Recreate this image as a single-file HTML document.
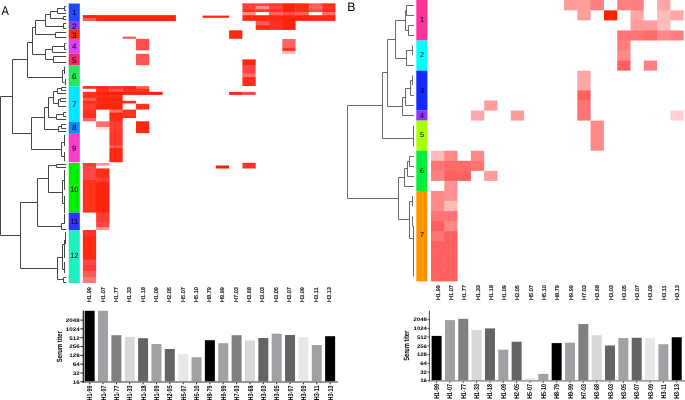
<!DOCTYPE html>
<html><head><meta charset="utf-8"><title>Figure</title>
<style>
html,body{margin:0;padding:0;background:#fff;}
body{width:685px;height:400px;overflow:hidden;}
svg{display:block;font-family:"Liberation Sans",sans-serif;text-rendering:geometricPrecision;}
</style></head><body>
<svg width="685" height="400" viewBox="0 0 685 400">
<rect x="0" y="0" width="685" height="400" fill="#fff"/>
<g>
<rect x="68.70" y="3.50" width="11.10" height="17.50" fill="#1f4bff"/>
<rect x="68.70" y="21.00" width="11.10" height="8.90" fill="#8a3cff"/>
<rect x="68.70" y="29.90" width="11.10" height="9.00" fill="#ff2a00"/>
<rect x="68.70" y="38.90" width="11.10" height="14.90" fill="#e040fb"/>
<rect x="68.70" y="53.80" width="11.10" height="11.70" fill="#f5286e"/>
<rect x="68.70" y="65.50" width="11.10" height="20.80" fill="#28e65a"/>
<rect x="68.70" y="86.30" width="11.10" height="35.30" fill="#00e6ff"/>
<rect x="68.70" y="121.60" width="11.10" height="11.40" fill="#0a8cff"/>
<rect x="68.70" y="133.00" width="11.10" height="29.30" fill="#ff3cc8"/>
<rect x="68.70" y="163.00" width="11.10" height="49.60" fill="#00f000"/>
<rect x="68.70" y="212.60" width="11.10" height="17.50" fill="#3232ff"/>
<rect x="68.70" y="230.10" width="11.10" height="52.90" fill="#1ef0be"/>
<rect x="416.30" y="0.00" width="11.10" height="40.50" fill="#ff3296"/>
<rect x="416.30" y="40.50" width="11.10" height="30.15" fill="#00ffff"/>
<rect x="416.30" y="70.65" width="11.10" height="39.90" fill="#1428ff"/>
<rect x="416.30" y="110.55" width="11.10" height="10.05" fill="#9632ff"/>
<rect x="416.30" y="120.60" width="11.10" height="30.15" fill="#aaff00"/>
<rect x="416.30" y="150.75" width="11.10" height="40.20" fill="#00f03c"/>
<rect x="416.30" y="190.95" width="11.10" height="90.45" fill="#ff9600"/>
<rect x="254.70" y="3.90" width="2.00" height="1.60" fill="rgb(255,60,52)"/>
<rect x="243.00" y="5.10" width="12.10" height="2.00" fill="rgb(255,60,52)"/>
<rect x="268.00" y="3.90" width="2.00" height="1.60" fill="rgb(255,70,70)"/>
<rect x="256.30" y="5.10" width="12.10" height="2.00" fill="rgb(255,70,70)"/>
<rect x="281.30" y="3.90" width="2.00" height="1.60" fill="rgb(255,55,47)"/>
<rect x="269.60" y="5.10" width="12.10" height="2.00" fill="rgb(255,55,47)"/>
<rect x="294.60" y="3.90" width="2.00" height="1.60" fill="rgb(255,34,10)"/>
<rect x="282.90" y="5.10" width="12.10" height="2.00" fill="rgb(255,34,10)"/>
<rect x="307.90" y="3.90" width="2.00" height="1.60" fill="rgb(255,46,22)"/>
<rect x="296.20" y="5.10" width="12.10" height="2.00" fill="rgb(255,46,22)"/>
<rect x="321.20" y="3.90" width="2.00" height="1.60" fill="rgb(255,90,90)"/>
<rect x="309.50" y="5.10" width="12.10" height="2.00" fill="rgb(255,90,90)"/>
<rect x="322.80" y="5.10" width="12.10" height="2.00" fill="rgb(255,51,27)"/>
<rect x="254.70" y="6.70" width="2.00" height="1.80" fill="rgb(255,65,57)"/>
<rect x="243.00" y="8.10" width="12.10" height="2.00" fill="rgb(255,65,57)"/>
<rect x="268.00" y="6.70" width="2.00" height="1.80" fill="rgb(255,140,140)"/>
<rect x="256.30" y="8.10" width="12.10" height="2.00" fill="rgb(255,140,140)"/>
<rect x="281.30" y="6.70" width="2.00" height="1.80" fill="rgb(255,70,70)"/>
<rect x="269.60" y="8.10" width="12.10" height="2.00" fill="rgb(255,70,70)"/>
<rect x="294.60" y="6.70" width="2.00" height="1.80" fill="rgb(255,34,10)"/>
<rect x="282.90" y="8.10" width="12.10" height="2.00" fill="rgb(255,34,10)"/>
<rect x="307.90" y="6.70" width="2.00" height="1.80" fill="rgb(255,46,22)"/>
<rect x="296.20" y="8.10" width="12.10" height="2.00" fill="rgb(255,46,22)"/>
<rect x="321.20" y="6.70" width="2.00" height="1.80" fill="rgb(255,100,100)"/>
<rect x="309.50" y="8.10" width="12.10" height="2.00" fill="rgb(255,100,100)"/>
<rect x="322.80" y="8.10" width="12.10" height="2.00" fill="rgb(255,50,42)"/>
<rect x="254.70" y="9.70" width="2.00" height="1.80" fill="rgb(255,50,42)"/>
<rect x="243.00" y="11.10" width="12.10" height="2.00" fill="rgb(255,50,42)"/>
<rect x="268.00" y="9.70" width="2.00" height="1.80" fill="rgb(255,60,52)"/>
<rect x="281.30" y="9.70" width="2.00" height="1.80" fill="rgb(255,50,42)"/>
<rect x="269.60" y="11.10" width="12.10" height="2.00" fill="rgb(255,50,42)"/>
<rect x="294.60" y="9.70" width="2.00" height="1.80" fill="rgb(255,34,10)"/>
<rect x="282.90" y="11.10" width="12.10" height="2.00" fill="rgb(255,34,10)"/>
<rect x="307.90" y="9.70" width="2.00" height="1.80" fill="rgb(255,46,22)"/>
<rect x="296.20" y="11.10" width="12.10" height="2.00" fill="rgb(255,46,22)"/>
<rect x="321.20" y="9.70" width="2.00" height="1.80" fill="rgb(255,80,80)"/>
<rect x="322.80" y="11.10" width="12.10" height="2.00" fill="rgb(255,46,22)"/>
<rect x="243.00" y="14.20" width="12.10" height="2.00" fill="rgb(255,140,140)"/>
<rect x="281.30" y="12.70" width="2.00" height="1.90" fill="rgb(255,100,100)"/>
<rect x="269.60" y="14.20" width="12.10" height="2.00" fill="rgb(255,100,100)"/>
<rect x="294.60" y="12.70" width="2.00" height="1.90" fill="rgb(255,80,80)"/>
<rect x="282.90" y="14.20" width="12.10" height="2.00" fill="rgb(255,80,80)"/>
<rect x="296.20" y="14.20" width="12.10" height="2.00" fill="rgb(255,100,100)"/>
<rect x="322.80" y="14.20" width="12.10" height="2.00" fill="rgb(255,110,110)"/>
<rect x="254.70" y="15.80" width="2.00" height="4.50" fill="rgb(255,41,17)"/>
<rect x="268.00" y="15.80" width="2.00" height="4.50" fill="rgb(255,41,17)"/>
<rect x="256.30" y="19.90" width="12.10" height="2.00" fill="rgb(255,41,17)"/>
<rect x="281.30" y="15.80" width="2.00" height="4.50" fill="rgb(255,41,17)"/>
<rect x="269.60" y="19.90" width="12.10" height="2.00" fill="rgb(255,41,17)"/>
<rect x="294.60" y="15.80" width="2.00" height="4.50" fill="rgb(255,36,12)"/>
<rect x="282.90" y="19.90" width="12.10" height="2.00" fill="rgb(255,36,12)"/>
<rect x="307.90" y="15.80" width="2.00" height="4.50" fill="rgb(255,36,12)"/>
<rect x="321.20" y="15.80" width="2.00" height="4.50" fill="rgb(255,41,17)"/>
<rect x="83.40" y="16.90" width="12.10" height="2.00" fill="rgb(255,34,10)"/>
<rect x="95.10" y="15.70" width="2.00" height="1.60" fill="rgb(255,34,10)"/>
<rect x="95.10" y="18.50" width="2.00" height="1.90" fill="rgb(255,90,90)"/>
<rect x="256.30" y="24.20" width="12.10" height="2.00" fill="rgb(255,90,90)"/>
<rect x="268.00" y="21.50" width="2.00" height="3.10" fill="rgb(255,90,90)"/>
<rect x="268.00" y="25.80" width="2.00" height="3.50" fill="rgb(255,46,22)"/>
<rect x="281.30" y="21.50" width="2.00" height="7.80" fill="rgb(255,50,42)"/>
<rect x="282.90" y="46.80" width="12.10" height="2.00" fill="rgb(255,100,100)"/>
<rect x="282.90" y="49.90" width="12.10" height="2.00" fill="rgb(255,50,42)"/>
<rect x="243.00" y="64.20" width="12.10" height="2.00" fill="rgb(255,36,12)"/>
<rect x="243.00" y="72.50" width="12.10" height="2.00" fill="rgb(255,70,70)"/>
<rect x="243.00" y="76.00" width="12.10" height="2.00" fill="rgb(255,110,110)"/>
<rect x="95.10" y="86.70" width="2.00" height="1.50" fill="rgb(255,46,22)"/>
<rect x="108.40" y="86.70" width="2.00" height="1.50" fill="rgb(255,36,12)"/>
<rect x="96.70" y="87.80" width="12.10" height="2.00" fill="rgb(255,36,12)"/>
<rect x="121.70" y="86.70" width="2.00" height="1.50" fill="rgb(255,46,22)"/>
<rect x="110.00" y="87.80" width="12.10" height="2.00" fill="rgb(255,46,22)"/>
<rect x="135.00" y="86.70" width="2.00" height="1.50" fill="rgb(255,36,12)"/>
<rect x="123.30" y="87.80" width="12.10" height="2.00" fill="rgb(255,36,12)"/>
<rect x="136.60" y="87.80" width="12.10" height="2.00" fill="rgb(255,90,90)"/>
<rect x="108.40" y="89.40" width="2.00" height="1.80" fill="rgb(255,51,27)"/>
<rect x="96.70" y="90.80" width="12.10" height="2.00" fill="rgb(255,51,27)"/>
<rect x="121.70" y="89.40" width="2.00" height="1.80" fill="rgb(255,80,80)"/>
<rect x="110.00" y="90.80" width="12.10" height="2.00" fill="rgb(255,80,80)"/>
<rect x="135.00" y="89.40" width="2.00" height="1.80" fill="rgb(255,50,42)"/>
<rect x="123.30" y="90.80" width="12.10" height="2.00" fill="rgb(255,50,42)"/>
<rect x="136.60" y="90.80" width="12.10" height="2.00" fill="rgb(255,51,27)"/>
<rect x="95.10" y="92.40" width="2.00" height="1.90" fill="rgb(255,51,27)"/>
<rect x="83.40" y="93.90" width="12.10" height="2.00" fill="rgb(255,51,27)"/>
<rect x="96.70" y="93.90" width="25.40" height="2.00" fill="rgb(255,34,10)"/>
<rect x="241.40" y="92.50" width="2.00" height="1.80" fill="rgb(255,41,17)"/>
<rect x="83.40" y="96.90" width="12.10" height="2.00" fill="rgb(255,46,22)"/>
<rect x="96.70" y="96.90" width="25.40" height="2.00" fill="rgb(255,46,22)"/>
<rect x="95.10" y="98.50" width="2.00" height="1.70" fill="rgb(255,90,90)"/>
<rect x="83.40" y="99.80" width="12.10" height="2.00" fill="rgb(255,90,90)"/>
<rect x="96.70" y="99.80" width="25.40" height="2.00" fill="rgb(255,36,12)"/>
<rect x="83.40" y="102.50" width="12.10" height="2.00" fill="rgb(255,46,22)"/>
<rect x="96.70" y="102.50" width="25.40" height="2.00" fill="rgb(255,46,22)"/>
<rect x="95.10" y="104.10" width="2.00" height="4.90" fill="rgb(255,60,52)"/>
<rect x="83.40" y="108.60" width="12.10" height="2.00" fill="rgb(255,60,52)"/>
<rect x="110.00" y="108.60" width="12.10" height="2.00" fill="rgb(255,36,12)"/>
<rect x="83.40" y="117.00" width="12.10" height="2.00" fill="rgb(255,51,27)"/>
<rect x="110.00" y="111.60" width="12.10" height="2.00" fill="rgb(255,110,110)"/>
<rect x="121.70" y="110.20" width="2.00" height="1.80" fill="rgb(255,110,110)"/>
<rect x="121.70" y="113.20" width="2.00" height="4.20" fill="rgb(255,41,17)"/>
<rect x="110.00" y="117.00" width="12.10" height="2.00" fill="rgb(255,41,17)"/>
<rect x="110.00" y="120.30" width="12.10" height="2.00" fill="rgb(255,46,22)"/>
<rect x="96.70" y="126.00" width="12.10" height="2.00" fill="rgb(255,110,110)"/>
<rect x="108.40" y="121.90" width="2.00" height="4.50" fill="rgb(255,110,110)"/>
<rect x="108.40" y="127.60" width="2.00" height="1.90" fill="rgb(255,225,225)"/>
<rect x="110.00" y="132.00" width="12.10" height="2.00" fill="rgb(255,60,52)"/>
<rect x="110.00" y="144.50" width="12.10" height="2.00" fill="rgb(255,55,47)"/>
<rect x="110.00" y="147.00" width="12.10" height="2.00" fill="rgb(255,90,90)"/>
<rect x="95.10" y="163.60" width="2.00" height="1.50" fill="rgb(255,60,52)"/>
<rect x="83.40" y="165.00" width="12.10" height="2.00" fill="rgb(255,60,52)"/>
<rect x="83.40" y="179.00" width="12.10" height="2.00" fill="rgb(255,70,70)"/>
<rect x="95.10" y="169.00" width="2.00" height="8.40" fill="rgb(255,70,70)"/>
<rect x="95.10" y="178.60" width="2.00" height="0.80" fill="rgb(255,70,70)"/>
<rect x="95.10" y="180.60" width="2.00" height="0.80" fill="rgb(255,51,27)"/>
<rect x="95.10" y="182.60" width="2.00" height="29.40" fill="rgb(255,51,27)"/>
<rect x="96.70" y="177.00" width="12.10" height="2.00" fill="rgb(255,46,22)"/>
<rect x="96.70" y="181.00" width="12.10" height="2.00" fill="rgb(255,60,52)"/>
<rect x="96.70" y="211.60" width="12.10" height="2.00" fill="rgb(255,36,12)"/>
<rect x="96.70" y="221.00" width="12.10" height="2.00" fill="rgb(255,60,52)"/>
<rect x="96.70" y="226.20" width="12.10" height="2.00" fill="rgb(255,70,70)"/>
<rect x="83.40" y="235.00" width="12.10" height="2.00" fill="rgb(255,50,42)"/>
<rect x="83.40" y="258.70" width="12.10" height="2.00" fill="rgb(255,41,17)"/>
<rect x="83.40" y="264.00" width="12.10" height="2.00" fill="rgb(255,70,70)"/>
<rect x="83.40" y="270.00" width="12.10" height="2.00" fill="rgb(255,60,52)"/>
<rect x="83.40" y="276.00" width="12.10" height="2.00" fill="rgb(255,90,90)"/>
<rect x="576.30" y="0.60" width="2.00" height="9.15" fill="rgb(255,156,156)"/>
<rect x="589.60" y="0.60" width="2.00" height="9.15" fill="rgb(255,156,156)"/>
<rect x="577.90" y="9.35" width="12.10" height="2.00" fill="rgb(255,156,156)"/>
<rect x="629.50" y="0.60" width="2.00" height="9.15" fill="rgb(255,126,126)"/>
<rect x="631.10" y="9.35" width="12.10" height="2.00" fill="rgb(255,126,126)"/>
<rect x="657.70" y="9.35" width="12.10" height="2.00" fill="rgb(255,166,166)"/>
<rect x="631.10" y="19.40" width="12.10" height="2.00" fill="rgb(255,166,166)"/>
<rect x="669.40" y="10.95" width="2.00" height="8.85" fill="rgb(255,186,186)"/>
<rect x="657.70" y="19.40" width="12.10" height="2.00" fill="rgb(255,186,186)"/>
<rect x="642.80" y="21.00" width="2.00" height="8.85" fill="rgb(255,156,156)"/>
<rect x="631.10" y="29.45" width="12.10" height="2.00" fill="rgb(255,156,156)"/>
<rect x="656.10" y="21.00" width="2.00" height="8.85" fill="rgb(255,156,156)"/>
<rect x="644.40" y="29.45" width="12.10" height="2.00" fill="rgb(255,156,156)"/>
<rect x="657.70" y="29.45" width="12.10" height="2.00" fill="rgb(255,186,186)"/>
<rect x="629.50" y="31.05" width="2.00" height="8.85" fill="rgb(255,116,116)"/>
<rect x="617.80" y="39.50" width="12.10" height="2.00" fill="rgb(255,116,116)"/>
<rect x="642.80" y="31.05" width="2.00" height="8.85" fill="rgb(255,116,116)"/>
<rect x="656.10" y="31.05" width="2.00" height="8.85" fill="rgb(255,106,106)"/>
<rect x="669.40" y="31.05" width="2.00" height="8.85" fill="rgb(255,136,136)"/>
<rect x="617.80" y="49.55" width="12.10" height="2.00" fill="rgb(255,126,126)"/>
<rect x="617.80" y="59.60" width="12.10" height="2.00" fill="rgb(255,136,136)"/>
<rect x="577.90" y="79.70" width="12.10" height="2.00" fill="rgb(255,166,166)"/>
<rect x="577.90" y="89.45" width="12.10" height="2.00" fill="rgb(255,166,166)"/>
<rect x="577.90" y="99.50" width="12.10" height="2.00" fill="rgb(255,96,96)"/>
<rect x="577.90" y="109.55" width="12.10" height="2.00" fill="rgb(255,116,116)"/>
<rect x="591.20" y="129.65" width="12.10" height="2.00" fill="rgb(255,136,136)"/>
<rect x="591.20" y="139.70" width="12.10" height="2.00" fill="rgb(255,136,136)"/>
<rect x="443.30" y="151.35" width="2.00" height="8.85" fill="rgb(255,186,186)"/>
<rect x="431.60" y="159.80" width="12.10" height="2.00" fill="rgb(255,186,186)"/>
<rect x="444.90" y="159.80" width="12.10" height="2.00" fill="rgb(255,136,136)"/>
<rect x="471.50" y="159.80" width="12.10" height="2.00" fill="rgb(255,136,136)"/>
<rect x="443.30" y="161.40" width="2.00" height="8.85" fill="rgb(255,116,116)"/>
<rect x="431.60" y="169.85" width="12.10" height="2.00" fill="rgb(255,116,116)"/>
<rect x="456.60" y="161.40" width="2.00" height="8.85" fill="rgb(255,106,106)"/>
<rect x="444.90" y="169.85" width="12.10" height="2.00" fill="rgb(255,106,106)"/>
<rect x="469.90" y="161.40" width="2.00" height="8.85" fill="rgb(255,106,106)"/>
<rect x="458.20" y="169.85" width="12.10" height="2.00" fill="rgb(255,106,106)"/>
<rect x="443.30" y="171.45" width="2.00" height="8.85" fill="rgb(255,126,126)"/>
<rect x="456.60" y="171.45" width="2.00" height="8.85" fill="rgb(255,96,96)"/>
<rect x="444.90" y="179.90" width="12.10" height="2.00" fill="rgb(255,96,96)"/>
<rect x="444.90" y="189.95" width="12.10" height="2.00" fill="rgb(255,146,146)"/>
<rect x="443.30" y="191.55" width="2.00" height="8.85" fill="rgb(255,136,136)"/>
<rect x="431.60" y="200.00" width="12.10" height="2.00" fill="rgb(255,136,136)"/>
<rect x="444.90" y="200.00" width="12.10" height="2.00" fill="rgb(255,146,146)"/>
<rect x="443.30" y="201.60" width="2.00" height="8.85" fill="rgb(255,136,136)"/>
<rect x="431.60" y="210.05" width="12.10" height="2.00" fill="rgb(255,136,136)"/>
<rect x="444.90" y="210.05" width="12.10" height="2.00" fill="rgb(255,186,186)"/>
<rect x="443.30" y="211.65" width="2.00" height="8.85" fill="rgb(255,116,116)"/>
<rect x="431.60" y="220.10" width="12.10" height="2.00" fill="rgb(255,116,116)"/>
<rect x="444.90" y="220.10" width="12.10" height="2.00" fill="rgb(255,116,116)"/>
<rect x="443.30" y="221.70" width="2.00" height="8.85" fill="rgb(255,96,96)"/>
<rect x="431.60" y="230.15" width="12.10" height="2.00" fill="rgb(255,96,96)"/>
<rect x="444.90" y="230.15" width="12.10" height="2.00" fill="rgb(255,136,136)"/>
<rect x="443.30" y="231.75" width="2.00" height="8.85" fill="rgb(255,116,116)"/>
<rect x="431.60" y="240.20" width="12.10" height="2.00" fill="rgb(255,116,116)"/>
<rect x="444.90" y="240.20" width="12.10" height="2.00" fill="rgb(255,96,96)"/>
<rect x="443.30" y="241.80" width="2.00" height="8.85" fill="rgb(255,96,96)"/>
<rect x="431.60" y="250.25" width="12.10" height="2.00" fill="rgb(255,96,96)"/>
<rect x="444.90" y="250.25" width="12.10" height="2.00" fill="rgb(255,96,96)"/>
<rect x="443.30" y="251.85" width="2.00" height="8.85" fill="rgb(255,96,96)"/>
<rect x="431.60" y="260.30" width="12.10" height="2.00" fill="rgb(255,96,96)"/>
<rect x="444.90" y="260.30" width="12.10" height="2.00" fill="rgb(255,96,96)"/>
<rect x="443.30" y="261.90" width="2.00" height="8.85" fill="rgb(255,96,96)"/>
<rect x="431.60" y="270.35" width="12.10" height="2.00" fill="rgb(255,96,96)"/>
<rect x="444.90" y="270.35" width="12.10" height="2.00" fill="rgb(255,96,96)"/>
<rect x="443.30" y="271.95" width="2.00" height="8.85" fill="rgb(255,96,96)"/>
<rect x="242.40" y="3.30" width="13.30" height="2.80" fill="rgb(255,60,52)"/>
<rect x="255.70" y="3.30" width="13.30" height="2.80" fill="rgb(255,70,70)"/>
<rect x="269.00" y="3.30" width="13.30" height="2.80" fill="rgb(255,55,47)"/>
<rect x="282.30" y="3.30" width="13.30" height="2.80" fill="rgb(255,34,10)"/>
<rect x="295.60" y="3.30" width="13.30" height="2.80" fill="rgb(255,46,22)"/>
<rect x="308.90" y="3.30" width="13.30" height="2.80" fill="rgb(255,90,90)"/>
<rect x="322.20" y="3.30" width="13.30" height="2.80" fill="rgb(255,51,27)"/>
<rect x="242.40" y="6.10" width="13.30" height="3.00" fill="rgb(255,65,57)"/>
<rect x="255.70" y="6.10" width="13.30" height="3.00" fill="rgb(255,140,140)"/>
<rect x="269.00" y="6.10" width="13.30" height="3.00" fill="rgb(255,70,70)"/>
<rect x="282.30" y="6.10" width="13.30" height="3.00" fill="rgb(255,34,10)"/>
<rect x="295.60" y="6.10" width="13.30" height="3.00" fill="rgb(255,46,22)"/>
<rect x="308.90" y="6.10" width="13.30" height="3.00" fill="rgb(255,100,100)"/>
<rect x="322.20" y="6.10" width="13.30" height="3.00" fill="rgb(255,50,42)"/>
<rect x="242.40" y="9.10" width="13.30" height="3.00" fill="rgb(255,50,42)"/>
<rect x="255.70" y="9.10" width="13.30" height="3.00" fill="rgb(255,60,52)"/>
<rect x="269.00" y="9.10" width="13.30" height="3.00" fill="rgb(255,50,42)"/>
<rect x="282.30" y="9.10" width="13.30" height="3.00" fill="rgb(255,34,10)"/>
<rect x="295.60" y="9.10" width="13.30" height="3.00" fill="rgb(255,46,22)"/>
<rect x="308.90" y="9.10" width="13.30" height="3.00" fill="rgb(255,80,80)"/>
<rect x="322.20" y="9.10" width="13.30" height="3.00" fill="rgb(255,46,22)"/>
<rect x="242.40" y="12.10" width="13.30" height="3.10" fill="rgb(255,140,140)"/>
<rect x="269.00" y="12.10" width="13.30" height="3.10" fill="rgb(255,100,100)"/>
<rect x="282.30" y="12.10" width="13.30" height="3.10" fill="rgb(255,80,80)"/>
<rect x="295.60" y="12.10" width="13.30" height="3.10" fill="rgb(255,100,100)"/>
<rect x="322.20" y="12.10" width="13.30" height="3.10" fill="rgb(255,110,110)"/>
<rect x="242.40" y="15.20" width="13.30" height="5.70" fill="rgb(255,41,17)"/>
<rect x="255.70" y="15.20" width="13.30" height="5.70" fill="rgb(255,41,17)"/>
<rect x="269.00" y="15.20" width="13.30" height="5.70" fill="rgb(255,41,17)"/>
<rect x="282.30" y="15.20" width="13.30" height="5.70" fill="rgb(255,36,12)"/>
<rect x="295.60" y="15.20" width="13.30" height="5.70" fill="rgb(255,36,12)"/>
<rect x="308.90" y="15.20" width="13.30" height="5.70" fill="rgb(255,41,17)"/>
<rect x="322.20" y="15.20" width="13.30" height="5.70" fill="rgb(255,41,17)"/>
<rect x="82.80" y="15.10" width="13.30" height="2.80" fill="rgb(255,34,10)"/>
<rect x="82.80" y="17.90" width="13.30" height="3.10" fill="rgb(255,90,90)"/>
<rect x="96.10" y="15.10" width="79.80" height="5.90" fill="rgb(255,36,12)"/>
<rect x="202.50" y="15.60" width="26.60" height="2.20" fill="rgb(255,36,12)"/>
<rect x="255.70" y="20.90" width="13.30" height="4.30" fill="rgb(255,90,90)"/>
<rect x="255.70" y="25.20" width="13.30" height="4.70" fill="rgb(255,46,22)"/>
<rect x="269.00" y="20.90" width="13.30" height="9.00" fill="rgb(255,50,42)"/>
<rect x="282.30" y="20.90" width="13.30" height="9.00" fill="rgb(255,36,12)"/>
<rect x="229.10" y="30.30" width="13.30" height="8.50" fill="rgb(255,41,17)"/>
<rect x="122.70" y="36.60" width="13.30" height="2.20" fill="rgb(255,90,90)"/>
<rect x="136.00" y="38.80" width="13.30" height="11.60" fill="rgb(255,80,80)"/>
<rect x="282.30" y="39.00" width="13.30" height="8.80" fill="rgb(255,100,100)"/>
<rect x="282.30" y="47.80" width="13.30" height="3.10" fill="rgb(255,50,42)"/>
<rect x="282.30" y="50.90" width="13.30" height="2.90" fill="rgb(255,180,180)"/>
<rect x="136.00" y="53.80" width="13.30" height="11.40" fill="rgb(255,85,85)"/>
<rect x="242.40" y="59.40" width="13.30" height="5.80" fill="rgb(255,36,12)"/>
<rect x="242.40" y="65.20" width="13.30" height="8.30" fill="rgb(255,70,70)"/>
<rect x="242.40" y="73.50" width="13.30" height="3.50" fill="rgb(255,110,110)"/>
<rect x="242.40" y="77.00" width="13.30" height="9.00" fill="rgb(255,46,22)"/>
<rect x="82.80" y="86.10" width="13.30" height="2.70" fill="rgb(255,46,22)"/>
<rect x="96.10" y="86.10" width="13.30" height="2.70" fill="rgb(255,36,12)"/>
<rect x="109.40" y="86.10" width="13.30" height="2.70" fill="rgb(255,46,22)"/>
<rect x="122.70" y="86.10" width="13.30" height="2.70" fill="rgb(255,36,12)"/>
<rect x="136.00" y="86.10" width="13.30" height="2.70" fill="rgb(255,90,90)"/>
<rect x="96.10" y="88.80" width="13.30" height="3.00" fill="rgb(255,51,27)"/>
<rect x="109.40" y="88.80" width="13.30" height="3.00" fill="rgb(255,80,80)"/>
<rect x="122.70" y="88.80" width="13.30" height="3.00" fill="rgb(255,50,42)"/>
<rect x="136.00" y="88.80" width="13.30" height="3.00" fill="rgb(255,51,27)"/>
<rect x="82.80" y="91.80" width="13.30" height="3.10" fill="rgb(255,51,27)"/>
<rect x="96.10" y="91.80" width="66.50" height="3.10" fill="rgb(255,34,10)"/>
<rect x="229.10" y="91.90" width="13.30" height="3.00" fill="rgb(255,41,17)"/>
<rect x="242.40" y="91.90" width="13.30" height="3.00" fill="rgb(255,70,70)"/>
<rect x="82.80" y="94.90" width="39.90" height="3.00" fill="rgb(255,46,22)"/>
<rect x="82.80" y="97.90" width="13.30" height="2.90" fill="rgb(255,90,90)"/>
<rect x="96.10" y="97.90" width="26.60" height="2.90" fill="rgb(255,36,12)"/>
<rect x="82.80" y="100.80" width="53.20" height="2.70" fill="rgb(255,46,22)"/>
<rect x="82.80" y="103.50" width="13.30" height="6.10" fill="rgb(255,60,52)"/>
<rect x="96.10" y="103.50" width="26.60" height="6.10" fill="rgb(255,36,12)"/>
<rect x="136.00" y="103.80" width="13.30" height="5.80" fill="rgb(255,51,27)"/>
<rect x="82.80" y="109.60" width="13.30" height="8.40" fill="rgb(255,51,27)"/>
<rect x="109.40" y="109.60" width="13.30" height="3.00" fill="rgb(255,110,110)"/>
<rect x="109.40" y="112.60" width="13.30" height="5.40" fill="rgb(255,41,17)"/>
<rect x="122.70" y="109.60" width="13.30" height="8.40" fill="rgb(255,51,27)"/>
<rect x="82.80" y="118.00" width="13.30" height="3.30" fill="rgb(255,100,100)"/>
<rect x="109.40" y="118.00" width="13.30" height="3.30" fill="rgb(255,46,22)"/>
<rect x="96.10" y="121.30" width="13.30" height="5.70" fill="rgb(255,110,110)"/>
<rect x="96.10" y="127.00" width="13.30" height="3.10" fill="rgb(255,225,225)"/>
<rect x="109.40" y="121.30" width="13.30" height="11.70" fill="rgb(255,60,52)"/>
<rect x="136.00" y="121.30" width="13.30" height="11.80" fill="rgb(255,41,17)"/>
<rect x="109.40" y="133.00" width="13.30" height="12.50" fill="rgb(255,55,47)"/>
<rect x="109.40" y="145.50" width="13.30" height="2.50" fill="rgb(255,90,90)"/>
<rect x="109.40" y="148.00" width="13.30" height="14.20" fill="rgb(255,41,17)"/>
<rect x="82.80" y="163.00" width="13.30" height="3.00" fill="rgb(255,60,52)"/>
<rect x="96.10" y="163.00" width="13.30" height="2.70" fill="rgb(255,150,150)"/>
<rect x="215.80" y="165.50" width="13.30" height="3.00" fill="rgb(255,26,2)"/>
<rect x="242.40" y="162.80" width="13.30" height="5.70" fill="rgb(255,50,42)"/>
<rect x="82.80" y="166.00" width="13.30" height="14.00" fill="rgb(255,70,70)"/>
<rect x="82.80" y="180.00" width="13.30" height="32.60" fill="rgb(255,51,27)"/>
<rect x="96.10" y="168.40" width="13.30" height="9.60" fill="rgb(255,46,22)"/>
<rect x="96.10" y="178.00" width="13.30" height="4.00" fill="rgb(255,60,52)"/>
<rect x="96.10" y="182.00" width="13.30" height="30.60" fill="rgb(255,36,12)"/>
<rect x="96.10" y="212.60" width="13.30" height="9.40" fill="rgb(255,60,52)"/>
<rect x="96.10" y="222.00" width="13.30" height="5.20" fill="rgb(255,70,70)"/>
<rect x="96.10" y="227.20" width="13.30" height="2.80" fill="rgb(255,150,150)"/>
<rect x="82.80" y="230.00" width="13.30" height="6.00" fill="rgb(255,50,42)"/>
<rect x="82.80" y="236.00" width="13.30" height="23.70" fill="rgb(255,41,17)"/>
<rect x="82.80" y="259.70" width="13.30" height="5.30" fill="rgb(255,70,70)"/>
<rect x="82.80" y="265.00" width="13.30" height="6.00" fill="rgb(255,60,52)"/>
<rect x="82.80" y="271.00" width="13.30" height="6.00" fill="rgb(255,90,90)"/>
<rect x="82.80" y="277.00" width="13.30" height="6.00" fill="rgb(255,120,120)"/>
<rect x="564.00" y="0.00" width="13.30" height="10.35" fill="rgb(255,156,156)"/>
<rect x="577.30" y="0.00" width="13.30" height="10.35" fill="rgb(255,156,156)"/>
<rect x="590.60" y="0.00" width="13.30" height="10.35" fill="rgb(255,126,126)"/>
<rect x="617.20" y="0.00" width="13.30" height="10.35" fill="rgb(255,126,126)"/>
<rect x="630.50" y="0.00" width="13.30" height="10.35" fill="rgb(255,126,126)"/>
<rect x="657.10" y="0.00" width="13.30" height="10.35" fill="rgb(255,166,166)"/>
<rect x="577.30" y="10.35" width="13.30" height="10.05" fill="rgb(255,156,156)"/>
<rect x="603.90" y="10.35" width="13.30" height="10.05" fill="rgb(255,35,0)"/>
<rect x="630.50" y="10.35" width="13.30" height="10.05" fill="rgb(255,166,166)"/>
<rect x="657.10" y="10.35" width="13.30" height="10.05" fill="rgb(255,186,186)"/>
<rect x="670.40" y="10.35" width="13.30" height="10.05" fill="rgb(255,166,166)"/>
<rect x="630.50" y="20.40" width="13.30" height="10.05" fill="rgb(255,156,156)"/>
<rect x="643.80" y="20.40" width="13.30" height="10.05" fill="rgb(255,156,156)"/>
<rect x="657.10" y="20.40" width="13.30" height="10.05" fill="rgb(255,186,186)"/>
<rect x="617.20" y="30.45" width="13.30" height="10.05" fill="rgb(255,116,116)"/>
<rect x="630.50" y="30.45" width="13.30" height="10.05" fill="rgb(255,116,116)"/>
<rect x="643.80" y="30.45" width="13.30" height="10.05" fill="rgb(255,106,106)"/>
<rect x="657.10" y="30.45" width="13.30" height="10.05" fill="rgb(255,136,136)"/>
<rect x="670.40" y="30.45" width="13.30" height="10.05" fill="rgb(255,126,126)"/>
<rect x="617.20" y="40.50" width="13.30" height="10.05" fill="rgb(255,126,126)"/>
<rect x="617.20" y="50.55" width="13.30" height="10.05" fill="rgb(255,136,136)"/>
<rect x="617.20" y="60.60" width="13.30" height="10.05" fill="rgb(255,96,96)"/>
<rect x="643.80" y="60.60" width="13.30" height="10.05" fill="rgb(255,126,126)"/>
<rect x="577.30" y="70.65" width="13.30" height="10.05" fill="rgb(255,166,166)"/>
<rect x="577.30" y="80.70" width="13.30" height="9.75" fill="rgb(255,166,166)"/>
<rect x="577.30" y="90.45" width="13.30" height="10.05" fill="rgb(255,96,96)"/>
<rect x="484.20" y="100.50" width="13.30" height="10.05" fill="rgb(255,156,156)"/>
<rect x="577.30" y="100.50" width="13.30" height="10.05" fill="rgb(255,116,116)"/>
<rect x="470.90" y="110.55" width="13.30" height="10.05" fill="rgb(255,166,166)"/>
<rect x="510.80" y="110.55" width="13.30" height="10.05" fill="rgb(255,156,156)"/>
<rect x="577.30" y="110.55" width="13.30" height="10.05" fill="rgb(255,116,116)"/>
<rect x="670.40" y="110.55" width="13.30" height="10.05" fill="rgb(255,206,206)"/>
<rect x="590.60" y="120.60" width="13.30" height="10.05" fill="rgb(255,136,136)"/>
<rect x="590.60" y="130.65" width="13.30" height="10.05" fill="rgb(255,136,136)"/>
<rect x="590.60" y="140.70" width="13.30" height="10.05" fill="rgb(255,136,136)"/>
<rect x="431.00" y="150.75" width="13.30" height="10.05" fill="rgb(255,186,186)"/>
<rect x="444.30" y="150.75" width="13.30" height="10.05" fill="rgb(255,136,136)"/>
<rect x="470.90" y="150.75" width="13.30" height="10.05" fill="rgb(255,136,136)"/>
<rect x="431.00" y="160.80" width="13.30" height="10.05" fill="rgb(255,116,116)"/>
<rect x="444.30" y="160.80" width="13.30" height="10.05" fill="rgb(255,106,106)"/>
<rect x="457.60" y="160.80" width="13.30" height="10.05" fill="rgb(255,106,106)"/>
<rect x="470.90" y="160.80" width="13.30" height="10.05" fill="rgb(255,116,116)"/>
<rect x="431.00" y="170.85" width="13.30" height="10.05" fill="rgb(255,126,126)"/>
<rect x="444.30" y="170.85" width="13.30" height="10.05" fill="rgb(255,96,96)"/>
<rect x="457.60" y="170.85" width="13.30" height="10.05" fill="rgb(255,96,96)"/>
<rect x="484.20" y="170.85" width="13.30" height="10.05" fill="rgb(255,156,156)"/>
<rect x="444.30" y="180.90" width="13.30" height="10.05" fill="rgb(255,146,146)"/>
<rect x="431.00" y="190.95" width="13.30" height="10.05" fill="rgb(255,136,136)"/>
<rect x="444.30" y="190.95" width="13.30" height="10.05" fill="rgb(255,146,146)"/>
<rect x="431.00" y="201.00" width="13.30" height="10.05" fill="rgb(255,136,136)"/>
<rect x="444.30" y="201.00" width="13.30" height="10.05" fill="rgb(255,186,186)"/>
<rect x="431.00" y="211.05" width="13.30" height="10.05" fill="rgb(255,116,116)"/>
<rect x="444.30" y="211.05" width="13.30" height="10.05" fill="rgb(255,116,116)"/>
<rect x="431.00" y="221.10" width="13.30" height="10.05" fill="rgb(255,96,96)"/>
<rect x="444.30" y="221.10" width="13.30" height="10.05" fill="rgb(255,136,136)"/>
<rect x="431.00" y="231.15" width="13.30" height="10.05" fill="rgb(255,116,116)"/>
<rect x="444.30" y="231.15" width="13.30" height="10.05" fill="rgb(255,96,96)"/>
<rect x="431.00" y="241.20" width="13.30" height="10.05" fill="rgb(255,96,96)"/>
<rect x="444.30" y="241.20" width="13.30" height="10.05" fill="rgb(255,96,96)"/>
<rect x="431.00" y="251.25" width="13.30" height="10.05" fill="rgb(255,96,96)"/>
<rect x="444.30" y="251.25" width="13.30" height="10.05" fill="rgb(255,96,96)"/>
<rect x="431.00" y="261.30" width="13.30" height="10.05" fill="rgb(255,96,96)"/>
<rect x="444.30" y="261.30" width="13.30" height="10.05" fill="rgb(255,96,96)"/>
<rect x="431.00" y="271.35" width="13.30" height="10.05" fill="rgb(255,96,96)"/>
<rect x="444.30" y="271.35" width="13.30" height="10.05" fill="rgb(255,96,96)"/>
<rect x="84.65" y="310.80" width="10.00" height="70.80" fill="#000"/>
<rect x="98.01" y="310.80" width="10.00" height="70.80" fill="#a0a0a5"/>
<rect x="111.37" y="335.20" width="10.00" height="46.40" fill="#808080"/>
<rect x="124.73" y="336.90" width="10.00" height="44.70" fill="#d8d8d8"/>
<rect x="138.09" y="338.20" width="10.00" height="43.40" fill="#646464"/>
<rect x="151.45" y="344.00" width="10.00" height="37.60" fill="#a0a0a5"/>
<rect x="164.81" y="349.00" width="10.00" height="32.60" fill="#646464"/>
<rect x="178.17" y="354.00" width="10.00" height="27.60" fill="#e8e8e8"/>
<rect x="191.53" y="357.30" width="10.00" height="24.30" fill="#a0a0a5"/>
<rect x="204.89" y="340.20" width="10.00" height="41.40" fill="#000"/>
<rect x="218.25" y="343.20" width="10.00" height="38.40" fill="#a0a0a5"/>
<rect x="231.61" y="335.20" width="10.00" height="46.40" fill="#808080"/>
<rect x="244.97" y="340.50" width="10.00" height="41.10" fill="#d8d8d8"/>
<rect x="258.33" y="338.00" width="10.00" height="43.60" fill="#646464"/>
<rect x="271.69" y="333.70" width="10.00" height="47.90" fill="#a0a0a5"/>
<rect x="285.05" y="335.00" width="10.00" height="46.60" fill="#646464"/>
<rect x="298.41" y="337.20" width="10.00" height="44.40" fill="#e8e8e8"/>
<rect x="311.77" y="345.00" width="10.00" height="36.60" fill="#a0a0a5"/>
<rect x="325.13" y="336.20" width="10.00" height="45.40" fill="#000"/>
<path d="M82.70 382.00H338.0" stroke="#777" stroke-width="1.3" fill="none"/>
<path d="M83.30 310.6V382.65" stroke="#1a1a1a" stroke-width="1.2" fill="none"/>
<path d="M80.3 320.1H83.3M80.3 328.9H83.3M80.3 337.7H83.3M80.3 346.6H83.3M80.3 355.4H83.3M80.3 364.2H83.3M80.3 373.0H83.3M80.3 381.7H83.3M89.7 382.55V384.25M103.0 382.55V384.25M116.4 382.55V384.25M129.7 382.55V384.25M143.1 382.55V384.25M156.4 382.55V384.25M169.8 382.55V384.25M183.2 382.55V384.25M196.5 382.55V384.25M209.9 382.55V384.25M223.2 382.55V384.25M236.6 382.55V384.25M250.0 382.55V384.25M263.3 382.55V384.25M276.7 382.55V384.25M290.0 382.55V384.25M303.4 382.55V384.25M316.8 382.55V384.25M330.1 382.55V384.25" stroke="#1a1a1a" stroke-width="1.0" fill="none"/>
<rect x="431.60" y="335.90" width="10.00" height="44.50" fill="#000"/>
<rect x="444.94" y="320.10" width="10.00" height="60.30" fill="#a0a0a5"/>
<rect x="458.28" y="318.80" width="10.00" height="61.60" fill="#808080"/>
<rect x="471.62" y="329.90" width="10.00" height="50.50" fill="#d8d8d8"/>
<rect x="484.96" y="328.40" width="10.00" height="52.00" fill="#646464"/>
<rect x="498.30" y="349.70" width="10.00" height="30.70" fill="#a0a0a5"/>
<rect x="511.64" y="341.70" width="10.00" height="38.70" fill="#646464"/>
<rect x="524.98" y="378.10" width="10.00" height="2.30" fill="#e8e8e8"/>
<rect x="538.32" y="373.90" width="10.00" height="6.50" fill="#a0a0a5"/>
<rect x="551.66" y="343.10" width="10.00" height="37.30" fill="#000"/>
<rect x="565.00" y="342.60" width="10.00" height="37.80" fill="#a0a0a5"/>
<rect x="578.34" y="324.00" width="10.00" height="56.40" fill="#808080"/>
<rect x="591.68" y="335.25" width="10.00" height="45.15" fill="#d8d8d8"/>
<rect x="605.02" y="345.50" width="10.00" height="34.90" fill="#646464"/>
<rect x="618.36" y="338.00" width="10.00" height="42.40" fill="#a0a0a5"/>
<rect x="631.70" y="337.75" width="10.00" height="42.65" fill="#646464"/>
<rect x="645.04" y="338.00" width="10.00" height="42.40" fill="#e8e8e8"/>
<rect x="658.38" y="344.25" width="10.00" height="36.15" fill="#a0a0a5"/>
<rect x="671.72" y="337.25" width="10.00" height="43.15" fill="#000"/>
<path d="M428.95 380.85H685.0" stroke="#808080" stroke-width="1.1" fill="none"/>
<path d="M429.40 310.6V381.40" stroke="#3a3a3a" stroke-width="0.9" fill="none"/>
<path d="M427.5 319.6H429.4M427.5 328.4H429.4M427.5 337.0H429.4M427.5 345.9H429.4M427.5 354.7H429.4M427.5 363.4H429.4M427.5 372.1H429.4M427.5 380.7H429.4M436.6 381.30V382.90M449.9 381.30V382.90M463.3 381.30V382.90M476.6 381.30V382.90M490.0 381.30V382.90M503.3 381.30V382.90M516.6 381.30V382.90M530.0 381.30V382.90M543.3 381.30V382.90M556.7 381.30V382.90M570.0 381.30V382.90M583.3 381.30V382.90M596.7 381.30V382.90M610.0 381.30V382.90M623.4 381.30V382.90M636.7 381.30V382.90M650.0 381.30V382.90M663.4 381.30V382.90M676.7 381.30V382.90" stroke="#3a3a3a" stroke-width="0.9" fill="none"/>
</g>
<path d="M64.0 8.5H57.5V13.5H66.2M66.2 6.5H64.5V10.5H66.2M58.0 11.5H50.5V18.5H63.0M66.2 16.5H63.5V19.5H66.2M51.0 14.5H45.5V26.5H63.5M66.2 23.5H63.5V28.5H66.2M46.0 20.5H35.5V34.5H56.0M66.2 32.5H55.5V37.5H66.2M36.0 27.5H32.5V54.5H46.0M53.0 49.5H45.5V59.5H54.0M64.5 46.5H52.5V52.5H66.2M66.2 43.5H64.5V49.5H66.2M66.2 56.5H53.5V62.5H66.2M33.0 42.5H27.5V77.5H62.8M64.5 70.5H62.5V82.5H64.5M64.5 66.5V74.0M65.5 79.0V85.0M28.0 59.5H12.5V133.5H32.0M13.0 96.5H0.5V235.5H21.0M61.5 88.5H57.5V93.5H66.2M66.2 87.5H61.5V90.5H66.2M58.0 91.5H53.5V103.5H59.0M60.9 99.5H58.5V106.5H66.2M66.2 98.5H60.5V101.5H66.2M54.0 97.5H48.5V117.5H57.0M63.5 114.5H56.5V119.5H66.2M66.2 112.5H63.5V116.5H66.2M49.0 107.5H44.5V129.5H59.0M61.5 126.5H58.5V131.5H66.2M66.2 124.5H61.5V128.5H66.2M45.0 117.5H31.5V149.5H61.5M64.0 142.5H61.5V156.5H64.0M64.5 135.0V146.0M64.5 152.0V161.0M57.0 165.5H48.5V192.5H62.4M66.2 164.5H56.5V167.5H66.2M64.5 180.5H62.5V203.5H64.5M64.5 170.0V190.0M64.5 196.0V213.0M49.0 178.5H37.5V226.5H61.5M64.0 223.5H61.5V229.5H66.2M64.5 214.0V224.0M38.0 202.5H20.5V268.5H58.0M62.4 257.5H57.5V279.5H63.4M64.5 244.5H62.5V269.5H64.5M64.5 240.0V258.0M64.5 262.0V273.0M66.2 277.5H63.5V282.5H66.2M65.5 232.0V244.0" stroke="#464646" stroke-width="1" fill="none"/>
<path d="M414.0 5.5H406.5V15.5H414.0M414.0 25.5H408.5V35.5H414.0M407.0 10.5H405.5V30.5H409.0M406.0 20.5H395.5V58.5H407.0M412.8 50.5H406.5V65.5H414.0M412.5 45.3V55.3M396.0 39.5H387.5V106.5H403.0M406.0 97.5H402.5V115.5H414.0M411.0 88.5H405.5V105.5H414.0M412.8 80.5H410.5V95.5H414.0M412.5 75.3V85.3M388.0 72.5H382.5V138.5H413.4M413.5 125.7V146.4M383.0 105.5H347.5V198.5H399.0M414.0 156.5H409.5V166.5H414.0M410.0 161.5H407.5V176.5H414.0M408.0 168.5H404.5V186.5H414.0M405.0 177.5H398.5V219.5H410.0M412.4 201.5H409.5V238.5H413.0M412.5 196.0V206.3M412.5 216.4V226.4M413.5 226.0V276.5" stroke="#5a5a5a" stroke-width="0.9" fill="none"/>
<g>
<text transform="translate(1.5 14.8) scale(0.86 1)" font-size="12.8">A</text>
<text x="347.20" y="11.00" font-size="12.2" text-anchor="start" font-weight="normal" fill="#000">B</text>
<text x="74.30" y="15.10" font-size="8" text-anchor="middle" font-weight="normal" fill="#000">1</text>
<text x="74.30" y="28.60" font-size="8" text-anchor="middle" font-weight="normal" fill="#000">2</text>
<text x="74.30" y="37.60" font-size="8" text-anchor="middle" font-weight="normal" fill="#000">3</text>
<text x="74.30" y="49.10" font-size="8" text-anchor="middle" font-weight="normal" fill="#000">4</text>
<text x="74.30" y="62.60" font-size="8" text-anchor="middle" font-weight="normal" fill="#000">5</text>
<text x="74.30" y="79.10" font-size="8" text-anchor="middle" font-weight="normal" fill="#000">6</text>
<text x="74.30" y="106.60" font-size="8" text-anchor="middle" font-weight="normal" fill="#000">7</text>
<text x="74.30" y="130.10" font-size="8" text-anchor="middle" font-weight="normal" fill="#000">8</text>
<text x="74.30" y="150.60" font-size="8" text-anchor="middle" font-weight="normal" fill="#000">9</text>
<text x="74.30" y="191.90" font-size="7.5" text-anchor="middle" font-weight="normal" fill="#000">10</text>
<text x="74.30" y="223.90" font-size="7.5" text-anchor="middle" font-weight="normal" fill="#000">11</text>
<text x="74.30" y="257.90" font-size="7.5" text-anchor="middle" font-weight="normal" fill="#000">12</text>
<text x="421.90" y="21.80" font-size="7.2" text-anchor="middle" font-weight="normal" fill="#000">1</text>
<text x="421.90" y="57.30" font-size="7.2" text-anchor="middle" font-weight="normal" fill="#000">2</text>
<text x="421.90" y="93.30" font-size="7.2" text-anchor="middle" font-weight="normal" fill="#000">3</text>
<text x="421.90" y="117.80" font-size="7.2" text-anchor="middle" font-weight="normal" fill="#000">4</text>
<text x="421.90" y="137.30" font-size="7.2" text-anchor="middle" font-weight="normal" fill="#000">5</text>
<text x="421.90" y="172.80" font-size="7.2" text-anchor="middle" font-weight="normal" fill="#000">6</text>
<text x="421.90" y="237.30" font-size="7.2" text-anchor="middle" font-weight="normal" fill="#000">7</text>
<text x="91.45" y="302.00" font-size="5.6" text-anchor="start" font-weight="normal" fill="#222" transform="rotate(-90 91.45 302.00)" stroke="#222" stroke-width="0.22">H1.99</text>
<text x="439.65" y="300.00" font-size="5.6" text-anchor="start" font-weight="normal" fill="#222" transform="rotate(-90 439.65 300.00)" stroke="#222" stroke-width="0.22">H1.99</text>
<text x="104.75" y="302.00" font-size="5.6" text-anchor="start" font-weight="normal" fill="#222" transform="rotate(-90 104.75 302.00)" stroke="#222" stroke-width="0.22">H1.07</text>
<text x="452.95" y="300.00" font-size="5.6" text-anchor="start" font-weight="normal" fill="#222" transform="rotate(-90 452.95 300.00)" stroke="#222" stroke-width="0.22">H1.07</text>
<text x="118.05" y="302.00" font-size="5.6" text-anchor="start" font-weight="normal" fill="#222" transform="rotate(-90 118.05 302.00)" stroke="#222" stroke-width="0.22">H1.77</text>
<text x="466.25" y="300.00" font-size="5.6" text-anchor="start" font-weight="normal" fill="#222" transform="rotate(-90 466.25 300.00)" stroke="#222" stroke-width="0.22">H1.77</text>
<text x="131.35" y="302.00" font-size="5.6" text-anchor="start" font-weight="normal" fill="#222" transform="rotate(-90 131.35 302.00)" stroke="#222" stroke-width="0.22">H1.33</text>
<text x="479.55" y="300.00" font-size="5.6" text-anchor="start" font-weight="normal" fill="#222" transform="rotate(-90 479.55 300.00)" stroke="#222" stroke-width="0.22">H1.33</text>
<text x="144.65" y="302.00" font-size="5.6" text-anchor="start" font-weight="normal" fill="#222" transform="rotate(-90 144.65 302.00)" stroke="#222" stroke-width="0.22">H1.18</text>
<text x="492.85" y="300.00" font-size="5.6" text-anchor="start" font-weight="normal" fill="#222" transform="rotate(-90 492.85 300.00)" stroke="#222" stroke-width="0.22">H1.18</text>
<text x="157.95" y="302.00" font-size="5.6" text-anchor="start" font-weight="normal" fill="#222" transform="rotate(-90 157.95 302.00)" stroke="#222" stroke-width="0.22">H1.09</text>
<text x="506.15" y="300.00" font-size="5.6" text-anchor="start" font-weight="normal" fill="#222" transform="rotate(-90 506.15 300.00)" stroke="#222" stroke-width="0.22">H1.09</text>
<text x="171.25" y="302.00" font-size="5.6" text-anchor="start" font-weight="normal" fill="#222" transform="rotate(-90 171.25 302.00)" stroke="#222" stroke-width="0.22">H2.05</text>
<text x="519.45" y="300.00" font-size="5.6" text-anchor="start" font-weight="normal" fill="#222" transform="rotate(-90 519.45 300.00)" stroke="#222" stroke-width="0.22">H2.05</text>
<text x="184.55" y="302.00" font-size="5.6" text-anchor="start" font-weight="normal" fill="#222" transform="rotate(-90 184.55 302.00)" stroke="#222" stroke-width="0.22">H5.07</text>
<text x="532.75" y="300.00" font-size="5.6" text-anchor="start" font-weight="normal" fill="#222" transform="rotate(-90 532.75 300.00)" stroke="#222" stroke-width="0.22">H5.07</text>
<text x="197.85" y="302.00" font-size="5.6" text-anchor="start" font-weight="normal" fill="#222" transform="rotate(-90 197.85 302.00)" stroke="#222" stroke-width="0.22">H5.10</text>
<text x="546.05" y="300.00" font-size="5.6" text-anchor="start" font-weight="normal" fill="#222" transform="rotate(-90 546.05 300.00)" stroke="#222" stroke-width="0.22">H5.10</text>
<text x="211.15" y="302.00" font-size="5.6" text-anchor="start" font-weight="normal" fill="#222" transform="rotate(-90 211.15 302.00)" stroke="#222" stroke-width="0.22">H8.79</text>
<text x="559.35" y="300.00" font-size="5.6" text-anchor="start" font-weight="normal" fill="#222" transform="rotate(-90 559.35 300.00)" stroke="#222" stroke-width="0.22">H8.79</text>
<text x="224.45" y="302.00" font-size="5.6" text-anchor="start" font-weight="normal" fill="#222" transform="rotate(-90 224.45 302.00)" stroke="#222" stroke-width="0.22">H9.99</text>
<text x="572.65" y="300.00" font-size="5.6" text-anchor="start" font-weight="normal" fill="#222" transform="rotate(-90 572.65 300.00)" stroke="#222" stroke-width="0.22">H9.99</text>
<text x="237.75" y="302.00" font-size="5.6" text-anchor="start" font-weight="normal" fill="#222" transform="rotate(-90 237.75 302.00)" stroke="#222" stroke-width="0.22">H7.03</text>
<text x="585.95" y="300.00" font-size="5.6" text-anchor="start" font-weight="normal" fill="#222" transform="rotate(-90 585.95 300.00)" stroke="#222" stroke-width="0.22">H7.03</text>
<text x="251.05" y="302.00" font-size="5.6" text-anchor="start" font-weight="normal" fill="#222" transform="rotate(-90 251.05 302.00)" stroke="#222" stroke-width="0.22">H3.68</text>
<text x="599.25" y="300.00" font-size="5.6" text-anchor="start" font-weight="normal" fill="#222" transform="rotate(-90 599.25 300.00)" stroke="#222" stroke-width="0.22">H3.68</text>
<text x="264.35" y="302.00" font-size="5.6" text-anchor="start" font-weight="normal" fill="#222" transform="rotate(-90 264.35 302.00)" stroke="#222" stroke-width="0.22">H3.03</text>
<text x="612.55" y="300.00" font-size="5.6" text-anchor="start" font-weight="normal" fill="#222" transform="rotate(-90 612.55 300.00)" stroke="#222" stroke-width="0.22">H3.03</text>
<text x="277.65" y="302.00" font-size="5.6" text-anchor="start" font-weight="normal" fill="#222" transform="rotate(-90 277.65 302.00)" stroke="#222" stroke-width="0.22">H3.05</text>
<text x="625.85" y="300.00" font-size="5.6" text-anchor="start" font-weight="normal" fill="#222" transform="rotate(-90 625.85 300.00)" stroke="#222" stroke-width="0.22">H3.05</text>
<text x="290.95" y="302.00" font-size="5.6" text-anchor="start" font-weight="normal" fill="#222" transform="rotate(-90 290.95 302.00)" stroke="#222" stroke-width="0.22">H3.07</text>
<text x="639.15" y="300.00" font-size="5.6" text-anchor="start" font-weight="normal" fill="#222" transform="rotate(-90 639.15 300.00)" stroke="#222" stroke-width="0.22">H3.07</text>
<text x="304.25" y="302.00" font-size="5.6" text-anchor="start" font-weight="normal" fill="#222" transform="rotate(-90 304.25 302.00)" stroke="#222" stroke-width="0.22">H3.09</text>
<text x="652.45" y="300.00" font-size="5.6" text-anchor="start" font-weight="normal" fill="#222" transform="rotate(-90 652.45 300.00)" stroke="#222" stroke-width="0.22">H3.09</text>
<text x="317.55" y="302.00" font-size="5.6" text-anchor="start" font-weight="normal" fill="#222" transform="rotate(-90 317.55 302.00)" stroke="#222" stroke-width="0.22">H3.11</text>
<text x="665.75" y="300.00" font-size="5.6" text-anchor="start" font-weight="normal" fill="#222" transform="rotate(-90 665.75 300.00)" stroke="#222" stroke-width="0.22">H3.11</text>
<text x="330.85" y="302.00" font-size="5.6" text-anchor="start" font-weight="normal" fill="#222" transform="rotate(-90 330.85 302.00)" stroke="#222" stroke-width="0.22">H3.13</text>
<text x="679.05" y="300.00" font-size="5.6" text-anchor="start" font-weight="normal" fill="#222" transform="rotate(-90 679.05 300.00)" stroke="#222" stroke-width="0.22">H3.13</text>
<text transform="translate(79.70 321.96) scale(1.2 1)" font-size="5.2" text-anchor="end" font-weight="bold">2048</text>
<text transform="translate(79.70 330.76) scale(1.2 1)" font-size="5.2" text-anchor="end" font-weight="bold">1024</text>
<text transform="translate(79.70 339.56) scale(1.2 1)" font-size="5.2" text-anchor="end" font-weight="bold">512</text>
<text transform="translate(79.70 348.46) scale(1.2 1)" font-size="5.2" text-anchor="end" font-weight="bold">256</text>
<text transform="translate(79.70 357.26) scale(1.2 1)" font-size="5.2" text-anchor="end" font-weight="bold">128</text>
<text transform="translate(79.70 366.06) scale(1.2 1)" font-size="5.2" text-anchor="end" font-weight="bold">64</text>
<text transform="translate(79.70 374.86) scale(1.2 1)" font-size="5.2" text-anchor="end" font-weight="bold">32</text>
<text transform="translate(79.70 383.56) scale(1.2 1)" font-size="5.2" text-anchor="end" font-weight="bold">16</text>
<text transform="translate(92.21 385.50) scale(1.3 1) rotate(-90)" font-size="5.5" text-anchor="end" font-weight="bold">H1-99</text>
<text transform="translate(105.57 385.50) scale(1.3 1) rotate(-90)" font-size="5.5" text-anchor="end" font-weight="bold">H1-07</text>
<text transform="translate(118.93 385.50) scale(1.3 1) rotate(-90)" font-size="5.5" text-anchor="end" font-weight="bold">H1-77</text>
<text transform="translate(132.29 385.50) scale(1.3 1) rotate(-90)" font-size="5.5" text-anchor="end" font-weight="bold">H1-33</text>
<text transform="translate(145.65 385.50) scale(1.3 1) rotate(-90)" font-size="5.5" text-anchor="end" font-weight="bold">H1-18</text>
<text transform="translate(159.01 385.50) scale(1.3 1) rotate(-90)" font-size="5.5" text-anchor="end" font-weight="bold">H1-09</text>
<text transform="translate(172.37 385.50) scale(1.3 1) rotate(-90)" font-size="5.5" text-anchor="end" font-weight="bold">H2-05</text>
<text transform="translate(185.73 385.50) scale(1.3 1) rotate(-90)" font-size="5.5" text-anchor="end" font-weight="bold">H5-07</text>
<text transform="translate(199.09 385.50) scale(1.3 1) rotate(-90)" font-size="5.5" text-anchor="end" font-weight="bold">H5-10</text>
<text transform="translate(212.45 385.50) scale(1.3 1) rotate(-90)" font-size="5.5" text-anchor="end" font-weight="bold">H8-79</text>
<text transform="translate(225.81 385.50) scale(1.3 1) rotate(-90)" font-size="5.5" text-anchor="end" font-weight="bold">H9-99</text>
<text transform="translate(239.17 385.50) scale(1.3 1) rotate(-90)" font-size="5.5" text-anchor="end" font-weight="bold">H7-03</text>
<text transform="translate(252.53 385.50) scale(1.3 1) rotate(-90)" font-size="5.5" text-anchor="end" font-weight="bold">H3-68</text>
<text transform="translate(265.89 385.50) scale(1.3 1) rotate(-90)" font-size="5.5" text-anchor="end" font-weight="bold">H3-03</text>
<text transform="translate(279.25 385.50) scale(1.3 1) rotate(-90)" font-size="5.5" text-anchor="end" font-weight="bold">H3-05</text>
<text transform="translate(292.61 385.50) scale(1.3 1) rotate(-90)" font-size="5.5" text-anchor="end" font-weight="bold">H3-07</text>
<text transform="translate(305.97 385.50) scale(1.3 1) rotate(-90)" font-size="5.5" text-anchor="end" font-weight="bold">H3-09</text>
<text transform="translate(319.33 385.50) scale(1.3 1) rotate(-90)" font-size="5.5" text-anchor="end" font-weight="bold">H3-11</text>
<text transform="translate(332.69 385.50) scale(1.3 1) rotate(-90)" font-size="5.5" text-anchor="end" font-weight="bold">H3-13</text>
<text transform="translate(62.20 346.70) scale(1.28 1) rotate(-90)" x="0" y="0" font-size="5.9" text-anchor="middle" font-weight="bold" fill="#000">Serum titer</text>
<text transform="translate(426.90 321.39) scale(1.2 1)" font-size="5.0" text-anchor="end" font-weight="bold">2048</text>
<text transform="translate(426.90 330.19) scale(1.2 1)" font-size="5.0" text-anchor="end" font-weight="bold">1024</text>
<text transform="translate(426.90 338.79) scale(1.2 1)" font-size="5.0" text-anchor="end" font-weight="bold">512</text>
<text transform="translate(426.90 347.69) scale(1.2 1)" font-size="5.0" text-anchor="end" font-weight="bold">256</text>
<text transform="translate(426.90 356.49) scale(1.2 1)" font-size="5.0" text-anchor="end" font-weight="bold">128</text>
<text transform="translate(426.90 365.19) scale(1.2 1)" font-size="5.0" text-anchor="end" font-weight="bold">64</text>
<text transform="translate(426.90 373.89) scale(1.2 1)" font-size="5.0" text-anchor="end" font-weight="bold">32</text>
<text transform="translate(426.90 382.49) scale(1.2 1)" font-size="5.0" text-anchor="end" font-weight="bold">16</text>
<text transform="translate(439.11 384.10) scale(1.3 1) rotate(-90)" font-size="5.4" text-anchor="end" font-weight="bold">H1-99</text>
<text transform="translate(452.45 384.10) scale(1.3 1) rotate(-90)" font-size="5.4" text-anchor="end" font-weight="bold">H1-07</text>
<text transform="translate(465.79 384.10) scale(1.3 1) rotate(-90)" font-size="5.4" text-anchor="end" font-weight="bold">H1-77</text>
<text transform="translate(479.13 384.10) scale(1.3 1) rotate(-90)" font-size="5.4" text-anchor="end" font-weight="bold">H1-33</text>
<text transform="translate(492.47 384.10) scale(1.3 1) rotate(-90)" font-size="5.4" text-anchor="end" font-weight="bold">H1-18</text>
<text transform="translate(505.81 384.10) scale(1.3 1) rotate(-90)" font-size="5.4" text-anchor="end" font-weight="bold">H1-09</text>
<text transform="translate(519.15 384.10) scale(1.3 1) rotate(-90)" font-size="5.4" text-anchor="end" font-weight="bold">H2-05</text>
<text transform="translate(532.49 384.10) scale(1.3 1) rotate(-90)" font-size="5.4" text-anchor="end" font-weight="bold">H5-07</text>
<text transform="translate(545.83 384.10) scale(1.3 1) rotate(-90)" font-size="5.4" text-anchor="end" font-weight="bold">H5-10</text>
<text transform="translate(559.17 384.10) scale(1.3 1) rotate(-90)" font-size="5.4" text-anchor="end" font-weight="bold">H8-79</text>
<text transform="translate(572.51 384.10) scale(1.3 1) rotate(-90)" font-size="5.4" text-anchor="end" font-weight="bold">H9-99</text>
<text transform="translate(585.85 384.10) scale(1.3 1) rotate(-90)" font-size="5.4" text-anchor="end" font-weight="bold">H7-03</text>
<text transform="translate(599.19 384.10) scale(1.3 1) rotate(-90)" font-size="5.4" text-anchor="end" font-weight="bold">H3-68</text>
<text transform="translate(612.53 384.10) scale(1.3 1) rotate(-90)" font-size="5.4" text-anchor="end" font-weight="bold">H3-03</text>
<text transform="translate(625.87 384.10) scale(1.3 1) rotate(-90)" font-size="5.4" text-anchor="end" font-weight="bold">H3-05</text>
<text transform="translate(639.21 384.10) scale(1.3 1) rotate(-90)" font-size="5.4" text-anchor="end" font-weight="bold">H3-07</text>
<text transform="translate(652.55 384.10) scale(1.3 1) rotate(-90)" font-size="5.4" text-anchor="end" font-weight="bold">H3-09</text>
<text transform="translate(665.89 384.10) scale(1.3 1) rotate(-90)" font-size="5.4" text-anchor="end" font-weight="bold">H3-11</text>
<text transform="translate(679.23 384.10) scale(1.3 1) rotate(-90)" font-size="5.4" text-anchor="end" font-weight="bold">H3-13</text>
<text transform="translate(408.60 345.80) scale(1.35 1) rotate(-90)" x="0" y="0" font-size="5.7" text-anchor="middle" font-weight="bold" fill="#000">Serum titer</text>
</g>
</svg>
</body></html>
